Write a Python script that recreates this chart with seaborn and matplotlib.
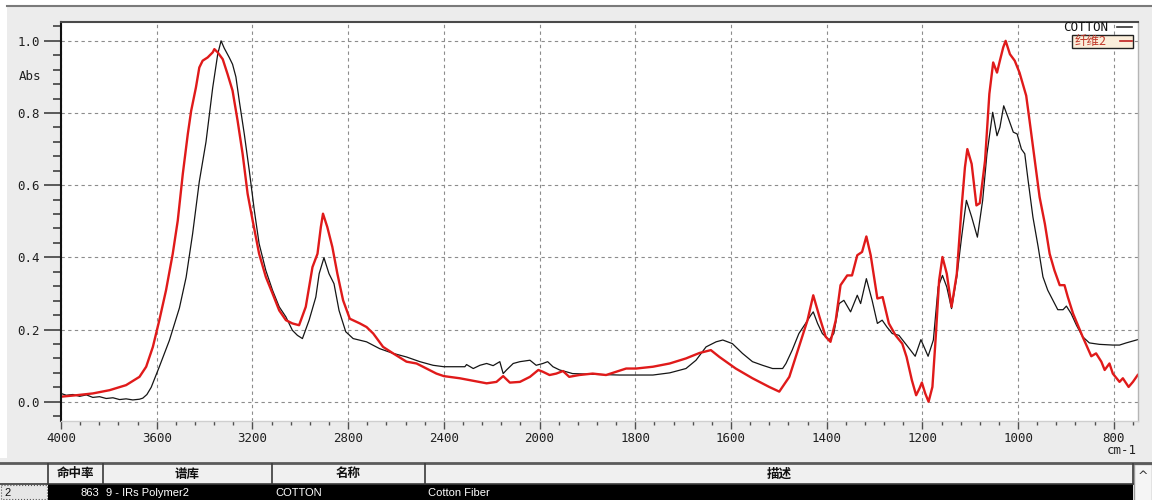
import numpy as np
import matplotlib
matplotlib.use("Agg")
import matplotlib.pyplot as plt
import seaborn as sns
from matplotlib.patches import Rectangle

# ---------------- spectra (wavenumber in cm-1, absorbance) ----------------
cotton_wn = [4000, 3978, 3950, 3922, 3894, 3867, 3839, 3811, 3783, 3755, 3728, 3700,
             3672, 3658, 3641, 3623, 3589, 3547, 3505, 3477, 3450, 3422, 3394, 3366,
             3345, 3331, 3318, 3297, 3283, 3269, 3255, 3234, 3213, 3192, 3172, 3144,
             3116, 3088, 3060, 3033, 3012, 2991, 2963, 2935, 2921, 2901, 2880, 2859,
             2838, 2810, 2779, 2723, 2668, 2612, 2556, 2500, 2445, 2400, 2312, 2305,
             2277, 2249, 2221, 2194, 2166, 2152, 2138, 2110, 2082, 2040, 2014, 1993,
             1983, 1972, 1958, 1944, 1931, 1889, 1833, 1763, 1728, 1694, 1673, 1652,
             1631, 1617, 1597, 1576, 1555, 1534, 1513, 1492, 1485, 1472, 1458, 1444,
             1433, 1428, 1419, 1409, 1395, 1385, 1374, 1364, 1350, 1336, 1329, 1317,
             1305, 1294, 1284, 1274, 1263, 1249, 1233, 1215, 1203, 1188, 1177, 1167,
             1158, 1149, 1139, 1128, 1118, 1108, 1097, 1085, 1074, 1065, 1053, 1044,
             1038, 1030, 1021, 1010, 1002, 993, 986, 979, 969, 958, 948, 938, 927,
             917, 906, 899, 889, 878, 865, 851, 830, 802, 788, 774, 750]
cotton_abs = [0.023, 0.018, 0.020, 0.015, 0.019, 0.012, 0.014, 0.009, 0.011, 0.006, 0.008, 0.005,
              0.007, 0.010, 0.020, 0.040, 0.097, 0.170, 0.260, 0.345, 0.465, 0.610, 0.720, 0.870,
              0.963, 1.000, 0.980, 0.954, 0.935, 0.900, 0.834, 0.742, 0.640, 0.530, 0.438, 0.364,
              0.309, 0.263, 0.235, 0.198, 0.184, 0.175, 0.226, 0.290, 0.355, 0.399, 0.355, 0.327,
              0.253, 0.194, 0.175, 0.166, 0.147, 0.134, 0.124, 0.111, 0.101, 0.097, 0.097, 0.103,
              0.092, 0.101, 0.106, 0.100, 0.111, 0.078, 0.088, 0.106, 0.111, 0.115, 0.101, 0.106,
              0.111, 0.097, 0.088, 0.083, 0.078, 0.076, 0.074, 0.074, 0.080, 0.092, 0.115, 0.152,
              0.166, 0.171, 0.161, 0.134, 0.111, 0.101, 0.092, 0.092, 0.106, 0.143, 0.189, 0.217,
              0.240, 0.249, 0.217, 0.189, 0.171, 0.189, 0.272, 0.281, 0.249, 0.295, 0.272, 0.341,
              0.281, 0.217, 0.226, 0.207, 0.189, 0.184, 0.157, 0.126, 0.172, 0.126, 0.171, 0.318,
              0.350, 0.318, 0.258, 0.346, 0.456, 0.558, 0.512, 0.456, 0.558, 0.687, 0.802, 0.737,
              0.760, 0.820, 0.788, 0.747, 0.742, 0.700, 0.687, 0.613, 0.512, 0.429, 0.346, 0.309, 0.281,
              0.255, 0.255, 0.265, 0.244, 0.212, 0.180, 0.163, 0.159, 0.157, 0.157, 0.163, 0.172]

fiber_wn = [4000, 3936, 3867, 3797, 3728, 3672, 3644, 3616, 3589, 3561, 3533, 3512,
            3491, 3470, 3456, 3436, 3422, 3408, 3387, 3366, 3359, 3345, 3324, 3304,
            3283, 3262, 3241, 3220, 3199, 3172, 3144, 3116, 3088, 3060, 3033, 3005,
            2977, 2949, 2928, 2914, 2905, 2887, 2866, 2845, 2821, 2793, 2751, 2723,
            2695, 2654, 2612, 2556, 2514, 2472, 2431, 2400, 2333, 2277, 2221, 2180,
            2152, 2124, 2082, 2040, 2005, 1993, 1979, 1965, 1951, 1938, 1917, 1889,
            1861, 1840, 1819, 1798, 1763, 1728, 1694, 1666, 1642, 1624, 1590, 1555,
            1520, 1499, 1478, 1458, 1440, 1428, 1415, 1402, 1392, 1381, 1371, 1357,
            1347, 1336, 1326, 1317, 1308, 1294, 1283, 1270, 1256, 1242, 1233, 1222,
            1213, 1206, 1201, 1194, 1187, 1179, 1172, 1165, 1158, 1149, 1139, 1128,
            1118, 1111, 1106, 1097, 1087, 1080, 1069, 1060, 1052, 1044, 1038, 1031,
            1026, 1017, 1007, 997, 983, 976, 965, 955, 944, 934, 924, 913, 903, 896,
            885, 875, 865, 854, 847, 837, 826, 819, 809, 802, 788, 781, 769, 760, 750]
fiber_abs = [0.014, 0.018, 0.023, 0.032, 0.046, 0.069, 0.097, 0.152, 0.226, 0.309, 0.410, 0.502,
             0.631, 0.742, 0.806, 0.871, 0.926, 0.945, 0.954, 0.968, 0.977, 0.968, 0.949, 0.908,
             0.862, 0.779, 0.687, 0.576, 0.502, 0.410, 0.346, 0.300, 0.253, 0.226, 0.217, 0.212,
             0.263, 0.373, 0.410, 0.484, 0.521, 0.484, 0.429, 0.355, 0.281, 0.230, 0.217, 0.207,
             0.189, 0.152, 0.134, 0.111, 0.106, 0.092, 0.078, 0.071, 0.065, 0.058, 0.051, 0.055,
             0.071, 0.053, 0.055, 0.069, 0.088, 0.083, 0.074, 0.078, 0.085, 0.069, 0.074, 0.078,
             0.074, 0.083, 0.092, 0.092, 0.097, 0.106, 0.120, 0.135, 0.143, 0.124, 0.092, 0.065,
             0.041, 0.028, 0.069, 0.152, 0.226, 0.295, 0.235, 0.180, 0.166, 0.226, 0.323, 0.350,
             0.350, 0.406, 0.415, 0.458, 0.406, 0.286, 0.290, 0.217, 0.184, 0.161, 0.124, 0.060,
             0.018, 0.037, 0.053, 0.023, 0.000, 0.041, 0.180, 0.336, 0.401, 0.355, 0.263, 0.355,
             0.539, 0.650, 0.700, 0.659, 0.544, 0.550, 0.668, 0.853, 0.940, 0.912, 0.945, 0.982,
             1.000, 0.963, 0.945, 0.912, 0.848, 0.779, 0.668, 0.567, 0.493, 0.410, 0.364, 0.323, 0.323, 0.290,
             0.244, 0.212, 0.180, 0.147, 0.126, 0.134, 0.111, 0.088, 0.106, 0.078, 0.055, 0.065, 0.041, 0.055, 0.074]

series_names = ["COTTON", "纤维2"]

# axis ticks
x_major = [4000, 3600, 3200, 2800, 2400, 2000, 1800, 1600, 1400, 1200, 1000, 800]
x_labels = [str(v) for v in x_major]
y_major = [0.0, 0.2, 0.4, 0.6, 0.8, 1.0]
y_labels = ["0.0", "0.2", "0.4", "0.6", "0.8", "1.0"]

# result table
table_headers = ["命中率", "谱库", "名称", "描述"]
row_index = "2"
row_values = ["863", "9 - IRs Polymer2", "COTTON", "Cotton Fiber"]

# ---------------- figure ----------------
W, H = 1152, 500
BG = "#ececec"
MONO = "DejaVu Sans Mono"
CJK = ["Noto Sans CJK SC", "DejaVu Sans"]

fig = plt.figure(figsize=(W / 100, H / 100), dpi=100, facecolor=BG)

# pixel-space layer for the window chrome and table
bg = fig.add_axes([0, 0, 1, 1], zorder=0)
bg.set_xlim(0, W)
bg.set_ylim(H, 0)
bg.axis("off")

ax = fig.add_axes([61 / W, 1 - 420.5 / H, (1137.7 - 61) / W, (420.5 - 21.7) / H], zorder=2)
ax.set_facecolor("white")


# wavenumber axis: 4000-2000 compressed by a factor of two relative to 2000-750
def _fwd(w):
    w = np.asarray(w, dtype=float)
    return np.where(w > 2000, 2000 + (w - 2000) / 2.0, w)


def _inv(u):
    u = np.asarray(u, dtype=float)
    return np.where(u > 2000, 2000 + (u - 2000) * 2.0, u)


ax.set_xscale("function", functions=(_fwd, _inv))

sns.lineplot(x=cotton_wn, y=cotton_abs, ax=ax, color="#151515", linewidth=0.9,
             estimator=None, sort=False)
sns.lineplot(x=fiber_wn, y=fiber_abs, ax=ax, color="#e01a1a", linewidth=1.7,
             estimator=None, sort=False)

ax.set_xlim(4000, 750)
ax.set_ylim(-0.052, 1.053)

x_minor = [v for v in range(3920, 2000, -80) if v not in x_major] + \
          [v for v in range(1960, 749, -40) if v not in x_major]
y_minor = [round(v, 2) for v in np.arange(-0.04, 1.05, 0.04)]
ax.set_xticks(x_major)
ax.set_xticklabels(x_labels)
ax.set_xticks(x_minor, minor=True)
ax.set_yticks(y_major)
ax.set_yticklabels(y_labels)
ax.set_yticks(y_minor, minor=True)

ax.tick_params(axis="x", which="major", direction="out", length=6, width=1.0,
               color="#505050", pad=2.5, labelsize=9, labelcolor="#202020")
ax.tick_params(axis="x", which="minor", direction="out", length=3, width=1.0, color="#505050")
ax.tick_params(axis="y", which="major", direction="out", length=12, width=1.2,
               color="#404040", pad=3, labelsize=9, labelcolor="#202020")
ax.tick_params(axis="y", which="minor", direction="out", length=6, width=1.2, color="#404040")
for lab in ax.get_xticklabels() + ax.get_yticklabels():
    lab.set_fontfamily(MONO)

ax.set_xlabel("")
ax.set_ylabel("")
ax.set_axisbelow(True)
ax.grid(True, which="major", color="#8c8c8c", linestyle=(0, (3, 3)), linewidth=0.8)

ax.spines["left"].set_color("#111111")
ax.spines["left"].set_linewidth(1.5)
ax.spines["top"].set_color("#4a4a4a")
ax.spines["top"].set_linewidth(1.5)
ax.spines["right"].set_color("#b5b5b5")
ax.spines["right"].set_linewidth(1.0)
ax.spines["bottom"].set_color("#cfcfcf")
ax.spines["bottom"].set_linewidth(1.0)

# axis captions
bg.text(30, 77, "Abs", ha="center", va="center", fontsize=9, family=MONO, color="#202020")
bg.text(1137, 450, "cm-1", ha="right", va="center", fontsize=9, family=MONO, color="#202020")

# window edge
bg.add_patch(Rectangle((0, 0), W, 5, facecolor="white", edgecolor="none"))
bg.add_patch(Rectangle((0, 0), 7, 458, facecolor="white", edgecolor="none"))
bg.plot([7, W], [5.5, 5.5], color="#7a7a7a", lw=1.5)

# legend (text first, line sample after)
fg = fig.add_axes([0, 0, 1, 1], zorder=5)
fg.set_xlim(0, W)
fg.set_ylim(H, 0)
fg.axis("off")
fg.patch.set_alpha(0)
fg.text(1108, 27.5, series_names[0], ha="right", va="center", fontsize=9, family=MONO, color="#111111")
fg.plot([1117, 1132], [27, 27], color="#333333", lw=1.2)
fg.add_patch(Rectangle((1072, 35), 61, 12.5, facecolor="#fbeedb", edgecolor="#222222", lw=1.0))
fg.text(1075, 41.5, series_names[1], ha="left", va="center", fontsize=9, family=CJK, color="#c0392b")
fg.plot([1120, 1132], [41, 41], color="#c02020", lw=1.2)

# ---------------- result table ----------------
col_edges = [0, 48, 103, 272, 425, 1133]
hdr_top, hdr_bot, row_bot = 463, 483.5, 500

bg.plot([0, W], [hdr_top, hdr_top], color="#5a5a5a", lw=2.0)
bg.add_patch(Rectangle((0, hdr_top + 1), 1133, hdr_bot - hdr_top - 1, facecolor="#f0f0f0", edgecolor="none"))
for xe in col_edges[1:]:
    bg.plot([xe, xe], [hdr_top + 1, hdr_bot], color="#3a3a3a", lw=1.2)
bg.plot([0, 1133], [hdr_bot, hdr_bot], color="#3a3a3a", lw=1.2)
for i, name in enumerate(table_headers):
    cx = (col_edges[i + 1] + col_edges[i + 2]) / 2
    bg.text(cx, 474, name, ha="center", va="center", fontsize=9, family=CJK,
            fontweight="bold", color="#111111")

# selected result row
bg.add_patch(Rectangle((48, hdr_bot + 0.5), 1133 - 48, row_bot - hdr_bot, facecolor="black", edgecolor="none"))
bg.add_patch(Rectangle((1, hdr_bot + 1.5), 46, row_bot - hdr_bot - 2.5, facecolor="#e6e6e6",
                       edgecolor="#555555", lw=0.8, linestyle=":"))
bg.text(4, 492.5, row_index, ha="left", va="center", fontsize=8, family="Liberation Sans", color="#111111")
bg.text(99, 492.5, row_values[0], ha="right", va="center", fontsize=8, family="Liberation Sans", color="white")
for xs, val in zip([106, 275, 428], row_values[1:]):
    bg.text(xs, 492.5, val, ha="left", va="center", fontsize=8, family="Liberation Sans", color="white")

# scroll bar
bg.add_patch(Rectangle((1134, hdr_top + 1), 18, row_bot - hdr_top, facecolor="#f5f5f5",
                       edgecolor="#9a9a9a", lw=1.0))
bg.text(1143, 477, "^", ha="center", va="center", fontsize=9, family="DejaVu Sans", color="#333333")

fig.savefig("out.png", dpi=100, facecolor=BG)
